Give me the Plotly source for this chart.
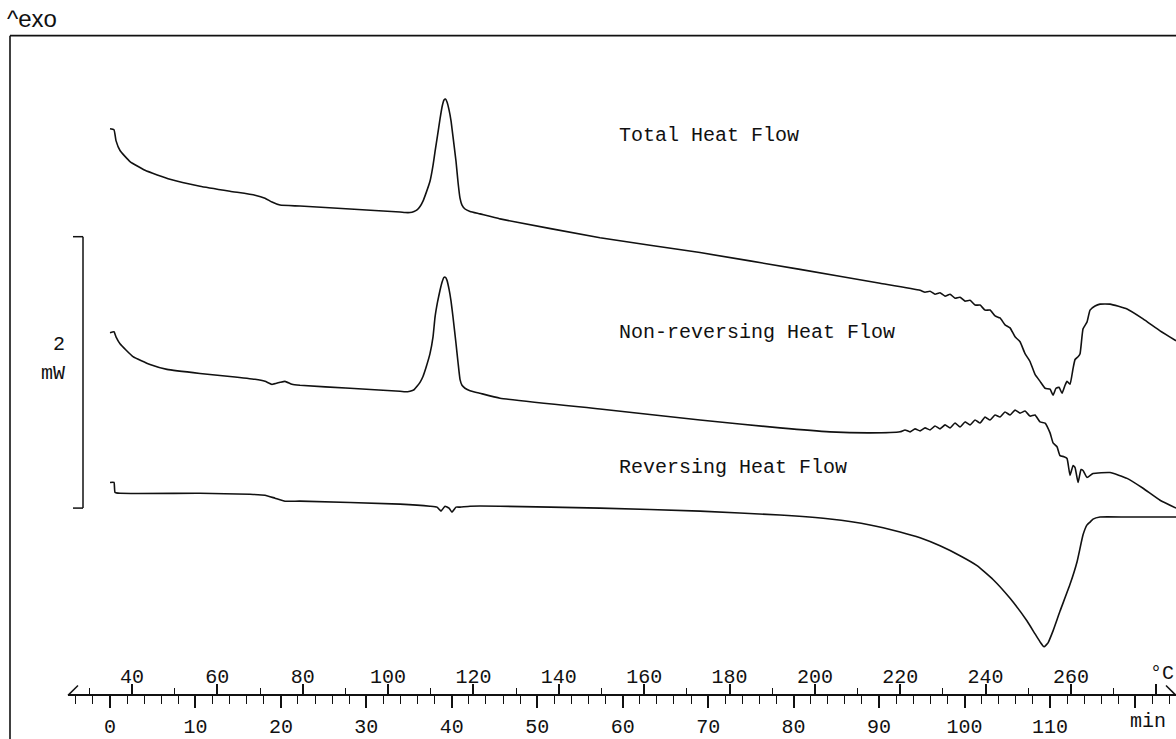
import plotly.graph_objects as go

# ---------------- data (temperature in °C, heat flow in mW, arbitrary offsets) ----------------
total_T = [34.85, 35.78, 36.25, 37.19, 39.53, 43.05, 48.90, 55.93, 62.96, 68.82,
           71.16, 72.80, 74.68, 79.36, 91.08, 102.80, 103.97, 105.14, 106.08, 106.78,
           107.48, 108.18, 108.89, 109.82, 110.53, 111.00, 111.58, 112.17, 112.64, 113.10,
           113.46, 113.81, 114.28, 114.75, 115.21, 115.92, 116.39, 116.85, 117.32, 118.03,
           119.20, 121.54, 126.23,
           149.66, 173.09, 196.52, 215.26,
           224.64, 225.81, 226.98, 228.15, 229.32, 230.50, 231.67, 232.84, 234.01, 235.18,
           236.35, 237.53, 238.70, 239.87, 241.04, 242.21, 243.38, 244.55, 245.73, 246.90,
           248.07, 249.24, 250.41, 251.58, 252.76, 253.93, 255.10,
           255.80, 256.50, 257.21, 257.91, 258.61, 259.08, 259.78, 260.49, 260.96, 261.66,
           262.13, 262.83, 263.77, 264.47, 265.64, 266.81, 269.16, 273.14, 276.89, 280.87, 284.62]
total_mW = [4.445, 4.438, 4.358, 4.285, 4.204, 4.139, 4.073, 4.022, 3.985, 3.956,
            3.934, 3.905, 3.883, 3.876, 3.854, 3.832, 3.828, 3.828, 3.836, 3.847,
            3.872, 3.912, 3.971, 4.058, 4.175, 4.277, 4.394, 4.518, 4.606, 4.657,
            4.664, 4.642, 4.584, 4.504, 4.387, 4.204, 4.051, 3.934, 3.883, 3.854,
            3.836, 3.818, 3.781,
            3.642, 3.533, 3.409, 3.307,
            3.255, 3.241, 3.248, 3.226, 3.237, 3.212, 3.226, 3.197, 3.204, 3.175,
            3.182, 3.146, 3.146, 3.109, 3.109, 3.066, 3.051, 3.000, 2.978, 2.912,
            2.876, 2.788, 2.730, 2.635, 2.584, 2.533, 2.526,
            2.482, 2.533, 2.540, 2.496, 2.555, 2.584, 2.562, 2.679, 2.745, 2.766,
            2.788, 2.971, 3.022, 3.109, 3.139, 3.153, 3.153, 3.117, 3.044, 2.956, 2.883]

nonrev_T = [34.85, 35.78, 36.25, 37.19, 40.23, 44.22, 48.20, 55.93, 62.96, 68.82,
            71.16, 72.80, 74.68, 75.85, 77.49, 79.36, 91.08, 102.80, 103.97, 105.14,
            106.08, 106.78, 107.48, 108.18, 108.89, 109.82, 110.53, 111.00, 111.58, 112.17,
            112.64, 113.10, 113.46, 113.81, 114.28, 114.75, 115.21, 115.92, 116.39, 116.85,
            117.32, 118.03, 119.20, 121.54, 126.23,
            149.66, 173.09, 191.83, 203.55, 212.92, 219.95,
            221.12, 222.29, 223.47, 224.64, 225.81, 226.98, 228.15, 229.32, 230.50, 231.67,
            232.84, 234.01, 235.18, 236.35, 237.53, 238.70, 239.87, 241.04, 242.21, 243.38,
            244.55, 245.73, 246.90, 248.07, 249.24, 250.41, 251.58, 252.76, 253.93, 255.10,
            255.80, 256.73, 257.44, 258.38, 259.08, 259.78, 260.49, 260.96, 261.66, 262.36,
            262.83, 263.77, 265.17, 269.16, 273.14, 276.89, 280.87, 284.62]
nonrev_mW = [2.942, 2.949, 2.912, 2.861, 2.766, 2.708, 2.672, 2.642, 2.620, 2.599,
             2.584, 2.562, 2.577, 2.584, 2.562, 2.555, 2.533, 2.511, 2.507, 2.511,
             2.522, 2.547, 2.577, 2.620, 2.686, 2.788, 2.912, 3.058, 3.168, 3.255,
             3.314, 3.350, 3.350, 3.328, 3.263, 3.175, 3.058, 2.861, 2.723, 2.599,
             2.555, 2.533, 2.515, 2.496, 2.460,
             2.380, 2.299, 2.241, 2.212, 2.204, 2.212,
             2.226, 2.212, 2.234, 2.219, 2.241, 2.226, 2.255, 2.234, 2.263, 2.241,
             2.277, 2.248, 2.285, 2.263, 2.299, 2.277, 2.321, 2.299, 2.336, 2.321,
             2.358, 2.336, 2.372, 2.350, 2.365, 2.328, 2.336, 2.285, 2.277, 2.204,
             2.131, 2.102, 2.036, 2.029, 2.015, 1.891, 1.964, 1.949, 1.839, 1.934,
             1.927, 1.876, 1.905, 1.912, 1.869, 1.796, 1.708, 1.650]

rev_T = [34.85, 35.78, 36.02, 37.19, 55.93, 67.65, 71.16, 73.51, 75.85, 79.36,
         102.80, 109.82, 111.46, 112.40, 113.34, 114.28, 114.98, 115.92, 116.85, 119.20,
         126.23, 149.66, 173.09, 191.83, 203.55, 212.92, 219.95, 224.64, 229.32, 234.01,
         237.99, 241.74, 245.73, 249.71, 251.58, 252.76, 253.69, 254.63, 255.80, 257.44,
         259.78, 261.43, 262.83, 263.77, 264.47, 265.17, 266.81, 273.14, 284.62]
rev_mW = [1.839, 1.839, 1.766, 1.759, 1.759, 1.752, 1.745, 1.723, 1.701, 1.701,
          1.679, 1.664, 1.657, 1.628, 1.664, 1.650, 1.620, 1.657, 1.657, 1.664,
          1.664, 1.650, 1.628, 1.599, 1.569, 1.526, 1.474, 1.431, 1.372, 1.299,
          1.226, 1.124, 0.985, 0.818, 0.723, 0.664, 0.628, 0.657, 0.745, 0.891,
          1.088, 1.255, 1.453, 1.526, 1.547, 1.569, 1.584, 1.584, 1.584]

curve_names = ["Total Heat Flow", "Non-reversing Heat Flow", "Reversing Heat Flow"]

temp_ticks = [40, 60, 80, 100, 120, 140, 160, 180, 200, 220, 240, 260, 280]
temp_labels = ["40", "60", "80", "100", "120", "140", "160", "180", "200", "220", "240", "260", ""]
time_ticks = [0, 10, 20, 30, 40, 50, 60, 70, 80, 90, 100, 110, 120]
time_labels = ["0", "10", "20", "30", "40", "50", "60", "70", "80", "90", "100", "110", ""]

scale_bar_mW = [1.65, 3.65]   # 2 mW scale bar

# ---------------- figure ----------------
W, H = 1176, 739
INK = "#111111"
MONO = "Courier New, Liberation Mono, monospace"

fig = go.Figure()
for T, y in [(total_T, total_mW), (nonrev_T, nonrev_mW), (rev_T, rev_mW)]:
    fig.add_trace(go.Scatter(x=T, y=y, xaxis="x2", yaxis="y", mode="lines",
                             line=dict(color=INK, width=1.6, shape="spline", smoothing=0.4),
                             hoverinfo="skip", showlegend=False))
# invisible trace on the time axis so it is active
fig.add_trace(go.Scatter(x=[0], y=[0], xaxis="x", yaxis="y", mode="markers",
                         marker=dict(opacity=0), hoverinfo="skip", showlegend=False))

axis_pos = (H - 702) / H
dom0 = 68 / W

fig.update_layout(
    width=W, height=H,
    margin=dict(l=0, r=0, t=0, b=0),
    paper_bgcolor="white", plot_bgcolor="white",
    xaxis=dict(domain=[dom0, 1], range=[-4.915, 124.75], anchor="free", position=axis_pos,
               side="bottom", showgrid=False, zeroline=False, showline=True,
               linecolor=INK, linewidth=1.5,
               tickmode="array", tickvals=time_ticks, ticktext=time_labels,
               ticks="outside", ticklen=12, tickwidth=1.5, tickcolor=INK,
               minor=dict(dtick=2, tick0=0, ticks="outside", ticklen=8, tickwidth=1.3,
                          tickcolor=INK, showgrid=False),
               ticklabelstandoff=1,
               tickfont=dict(family=MONO, size=20, color=INK)),
    xaxis2=dict(domain=[dom0, 1], range=[25.005, 284.61], overlaying="x", anchor="free",
                position=axis_pos, side="top", showgrid=False, zeroline=False, showline=False,
                tickmode="array", tickvals=temp_ticks, ticktext=temp_labels,
                ticks="outside", ticklen=11, tickwidth=1.5, tickcolor=INK,
                minor=dict(dtick=10, tick0=0, ticks="outside", ticklen=7, tickwidth=1.3,
                           tickcolor=INK, showgrid=False),
                ticklabelstandoff=-7,
                tickfont=dict(family=MONO, size=20, color=INK)),
    yaxis=dict(domain=[0, 1], range=[0, H / 137], visible=False, fixedrange=True),
)

def px(x):
    return x / W

def py(y):
    return 1 - y / H

shapes = [
    # frame (left and top)
    dict(type="line", xref="paper", yref="paper", x0=px(10), x1=px(10), y0=py(36), y1=-0.02,
         line=dict(color=INK, width=1.6)),
    dict(type="line", xref="paper", yref="paper", x0=px(10), x1=1.02, y0=py(36), y1=py(36),
         line=dict(color=INK, width=1.6)),
    # scale bar
    dict(type="line", xref="paper", yref="y", x0=px(83), x1=px(83),
         y0=scale_bar_mW[0], y1=scale_bar_mW[1], line=dict(color=INK, width=1.5)),
    dict(type="line", xref="paper", yref="y", x0=px(73), x1=px(83),
         y0=scale_bar_mW[1], y1=scale_bar_mW[1], line=dict(color=INK, width=1.5)),
    dict(type="line", xref="paper", yref="y", x0=px(73), x1=px(83),
         y0=scale_bar_mW[0], y1=scale_bar_mW[0], line=dict(color=INK, width=1.5)),
    # axis end marks
    dict(type="line", xref="paper", yref="paper", x0=px(68), x1=px(78), y0=py(702), y1=py(692),
         line=dict(color=INK, width=1.5)),
    dict(type="line", xref="paper", yref="paper", x0=px(1166), x1=px(1176), y0=py(692), y1=py(702),
         line=dict(color=INK, width=1.5)),
]
fig.update_layout(shapes=shapes)

ann = [
    dict(text="^exo", x=px(5), y=py(19), xanchor="left", yanchor="middle",
         font=dict(family="Liberation Sans, Arial, sans-serif", size=24, color=INK)),
    dict(text="2", x=px(67), y=py(348), xanchor="right", yanchor="middle",
         font=dict(family=MONO, size=20, color=INK)),
    dict(text="mW", x=px(67), y=py(377), xanchor="right", yanchor="middle",
         font=dict(family=MONO, size=20, color=INK)),
    dict(text="°C", x=px(1162), y=py(680), xanchor="center", yanchor="middle",
         font=dict(family=MONO, size=20, color=INK)),
    dict(text="min", x=px(1148), y=py(728), xanchor="center", yanchor="middle",
         font=dict(family=MONO, size=20, color=INK)),
]
for name, ypix in zip(curve_names, [137, 336, 472]):
    ann.append(dict(text=name, x=px(617), y=py(ypix), xanchor="left", yanchor="middle",
                    font=dict(family=MONO, size=20, color=INK)))
for a in ann:
    a.update(xref="paper", yref="paper", showarrow=False)
fig.update_layout(annotations=ann)

fig.write_html("out.html")
